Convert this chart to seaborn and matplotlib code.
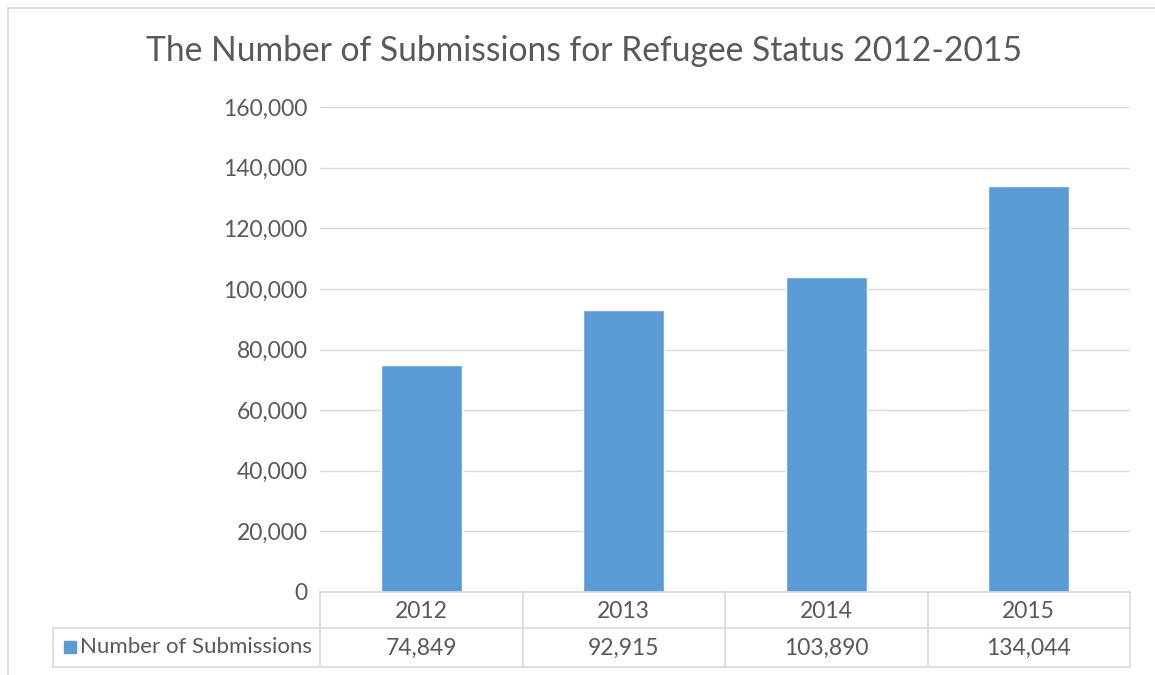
import matplotlib
matplotlib.use("Agg")
import matplotlib.pyplot as plt
import seaborn as sns
import pandas as pd
from matplotlib.lines import Line2D
from matplotlib.patches import Rectangle

years = ["2012", "2013", "2014", "2015"]
submissions = [74849, 92915, 103890, 134044]
series_name = "Number of Submissions"
title = "The Number of Submissions for Refugee Status 2012-2015"
yticks = [0, 20000, 40000, 60000, 80000, 100000, 120000, 140000, 160000]

BAR = "#5B9BD5"
TXT = "#595959"
GRID = "#D9D9D9"
FS = 16.5

sns.set_theme(style="white")
plt.rcParams['font.family'] = ['Lato', 'DejaVu Sans']

W, H = 1155, 675
fig = plt.figure(figsize=(W / 100, H / 100), dpi=100)

def fx(px):
    return px / W

def fy(py):
    return 1 - py / H

# plot area in pixels
L, R, T, B = 320, 1130, 107, 592
ax = fig.add_axes([fx(L), fy(B), fx(R - L), (B - T) / H])
df = pd.DataFrame({"year": years, "value": submissions})
sns.barplot(data=df, x="year", y="value", color=BAR, width=0.4, saturation=1, ax=ax)
ax.set_xlim(-0.5, len(years) - 0.5)
ax.set_ylim(0, 160000)
ax.set_yticks(yticks)
ax.set_yticklabels([f"{v:,}" for v in yticks], color=TXT, fontsize=FS)
ax.yaxis.grid(True, color=GRID, linewidth=1)
ax.set_axisbelow(True)
ax.set_xticks([])
ax.set_xlabel("")
ax.set_ylabel("")
for s in ax.spines.values():
    s.set_visible(False)
ax.tick_params(axis="y", length=0, pad=9)

# data table
TL = 53
TB = 667
TM = 628
tax = fig.add_axes([fx(TL), fy(TB), fx(R - TL), (TB - B) / H])
n = len(years)
unit = (R - L) / n  # px per category
x0 = -0.5 - (L - TL) / unit
tax.set_xlim(x0, n - 0.5)
tax.set_ylim(0, TB - B)
tax.invert_yaxis()
tax.axis("off")
lw = 1.2
hdr = TM - B
tot = TB - B
tax.plot([-0.5, n - 0.5], [0, 0], color=GRID, lw=lw, clip_on=False)
tax.plot([x0, n - 0.5], [hdr, hdr], color=GRID, lw=lw, clip_on=False)
tax.plot([x0, n - 0.5], [tot, tot], color=GRID, lw=lw, clip_on=False)
for i in range(n + 1):
    tax.plot([i - 0.5, i - 0.5], [0, tot], color=GRID, lw=lw, clip_on=False)
tax.plot([x0, x0], [hdr, tot], color=GRID, lw=lw, clip_on=False)
for i, (y, v) in enumerate(zip(years, submissions)):
    tax.text(i, hdr / 2 + 1, y, ha="center", va="center", color=TXT, fontsize=FS)
    tax.text(i, hdr + (tot - hdr) / 2 + 1, f"{v:,}", ha="center", va="center", color=TXT, fontsize=FS)
# legend key
fig.patches.append(Rectangle((fx(64), fy(653)), fx(12), 12 / H, color=BAR, transform=fig.transFigure))
fig.text(fx(80), fy(647), series_name, ha="left", va="center", color=TXT, fontsize=16)

# title
fig.text(fx(584), fy(51), title, ha="center", va="center", color=TXT, fontsize=24.2)

# chart frame
fig.add_artist(Line2D([fx(8), fx(8)], [fy(8), 0], color=GRID, lw=1.2, transform=fig.transFigure))
fig.add_artist(Line2D([fx(8), 1], [fy(8), fy(8)], color=GRID, lw=1.2, transform=fig.transFigure))

fig.savefig("out.png", dpi=100)
